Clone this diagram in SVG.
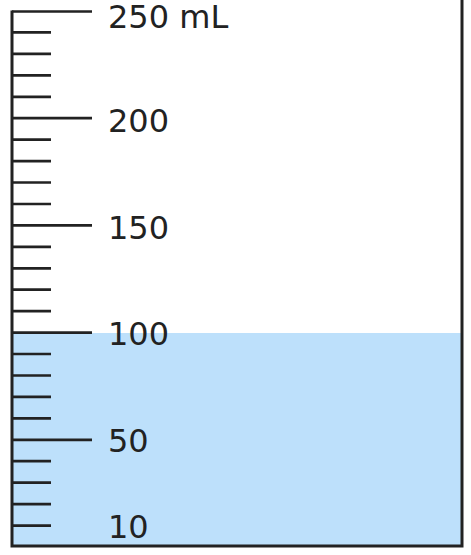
<svg xmlns="http://www.w3.org/2000/svg" width="471" height="555" viewBox="0 0 471 555">
<style>
.wall{stroke:#222;stroke-width:3;fill:none;stroke-linecap:square}
.tick{stroke:#222;stroke-width:2.7}
.lbl{font-family:"DejaVu Sans",Verdana,sans-serif;font-size:32px;fill:#222}
</style>
<rect id="liquid" x="12" y="333" width="450" height="213" fill="#bde0fb"/>
<g id="beaker">
<path class="wall" d="M12,12 V546 H462 V0"/>
</g>
<g id="ticks">
<line class="tick" x1="12" y1="525.6" x2="51" y2="525.6"/>
<line class="tick" x1="12" y1="504.1" x2="51" y2="504.1"/>
<line class="tick" x1="12" y1="482.7" x2="51" y2="482.7"/>
<line class="tick" x1="12" y1="461.2" x2="51" y2="461.2"/>
<line class="tick" x1="12" y1="439.8" x2="92" y2="439.8"/>
<line class="tick" x1="12" y1="418.4" x2="51" y2="418.4"/>
<line class="tick" x1="12" y1="396.9" x2="51" y2="396.9"/>
<line class="tick" x1="12" y1="375.5" x2="51" y2="375.5"/>
<line class="tick" x1="12" y1="354.0" x2="51" y2="354.0"/>
<line class="tick" x1="12" y1="332.6" x2="92" y2="332.6"/>
<line class="tick" x1="12" y1="311.2" x2="51" y2="311.2"/>
<line class="tick" x1="12" y1="289.7" x2="51" y2="289.7"/>
<line class="tick" x1="12" y1="268.3" x2="51" y2="268.3"/>
<line class="tick" x1="12" y1="246.8" x2="51" y2="246.8"/>
<line class="tick" x1="12" y1="225.4" x2="92" y2="225.4"/>
<line class="tick" x1="12" y1="204.0" x2="51" y2="204.0"/>
<line class="tick" x1="12" y1="182.5" x2="51" y2="182.5"/>
<line class="tick" x1="12" y1="161.1" x2="51" y2="161.1"/>
<line class="tick" x1="12" y1="139.6" x2="51" y2="139.6"/>
<line class="tick" x1="12" y1="118.2" x2="92" y2="118.2"/>
<line class="tick" x1="12" y1="96.8" x2="51" y2="96.8"/>
<line class="tick" x1="12" y1="75.3" x2="51" y2="75.3"/>
<line class="tick" x1="12" y1="53.9" x2="51" y2="53.9"/>
<line class="tick" x1="12" y1="32.4" x2="51" y2="32.4"/>
<line class="tick" x1="12" y1="11.5" x2="92" y2="11.5"/>
</g>
<g id="labels">
<text class="lbl" x="108" y="28">250 mL</text>
<text class="lbl" x="108" y="132">200</text>
<text class="lbl" x="108" y="239">150</text>
<text class="lbl" x="108" y="345">100</text>
<text class="lbl" x="108" y="452">50</text>
<text class="lbl" x="108" y="538">10</text>
</g>
</svg>
